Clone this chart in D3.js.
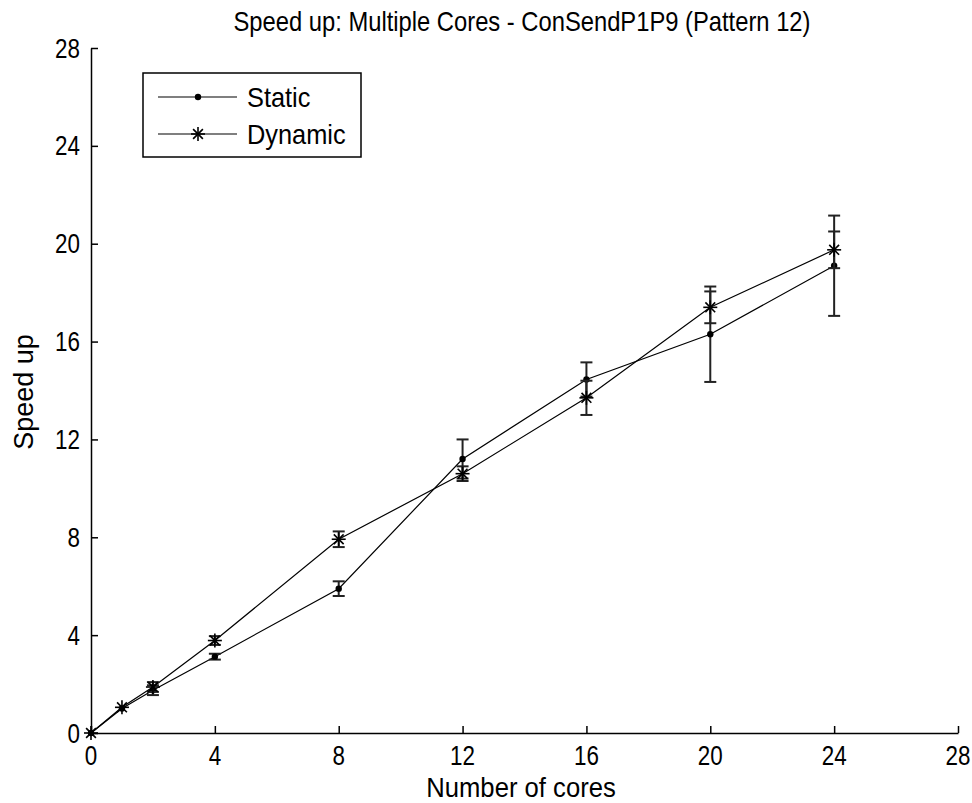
<!DOCTYPE html>
<html>
<head>
<meta charset="utf-8">
<script src="https://cdn.jsdelivr.net/npm/d3@7"></script>
<style>
  body { margin: 0; background: #fff; }
  svg text { font-family: "Liberation Sans", Arial, sans-serif; fill: #000; }
</style>
</head>
<body>
<div id="chart"></div>
<script>
// data
var cores = [0, 1, 2, 4, 8, 12, 16, 20, 24];
var staticSpeed = [0, 1.0, 1.75, 3.12, 5.9, 11.2, 14.45, 16.3, 19.1];
var staticErr = [0, 0.05, 0.2, 0.12, 0.3, 0.8, 0.7, 1.95, 2.05];
var dynamicSpeed = [0, 1.05, 1.88, 3.78, 7.92, 10.6, 13.7, 17.4, 19.75];
var dynamicErr = [0, 0.05, 0.2, 0.18, 0.32, 0.3, 0.7, 0.65, 0.75];
var tickVals = [0, 4, 8, 12, 16, 20, 24, 28];

var W = 972, H = 803;
var margin = { top: 48, right: 14, bottom: 70, left: 91 };
var FS = 27;

var svg = d3.select("#chart").append("svg")
    .attr("width", W)
    .attr("height", H);

var x = d3.scaleLinear().domain([0, 28]).range([margin.left, W - margin.right]);
var y = d3.scaleLinear().domain([0, 28]).range([H - margin.bottom, margin.top]);

// text helper: the matlab font is tall and narrow, so squeeze it sideways
function label(g, px, py, str, sx, anchor, rot) {
    return g.append("text")
        .attr("transform", "translate(" + px + "," + py + ")" + (rot ? " rotate(" + rot + ")" : "") + " scale(" + sx + ",1)")
        .attr("text-anchor", anchor)
        .attr("font-size", FS)
        .text(str);
}

// axes, ticks pointing inward, labels drawn by hand
var xAxis = svg.append("g")
    .attr("transform", "translate(0," + y(0) + ")")
    .call(d3.axisBottom(x).tickValues(tickVals).tickSizeInner(-7).tickSizeOuter(0).tickFormat(""));
var yAxis = svg.append("g")
    .attr("transform", "translate(" + x(0) + ",0)")
    .call(d3.axisLeft(y).tickValues(tickVals).tickSizeInner(-7).tickSizeOuter(0).tickFormat(""));

[xAxis, yAxis].forEach(function(a) {
    a.select(".domain").attr("stroke", "#000").attr("stroke-width", 1.5);
    a.selectAll(".tick line").attr("stroke", "#000").attr("stroke-width", 1.5);
});

tickVals.forEach(function(v) {
    label(svg, x(v), y(0) + 32, String(v), 0.83, "middle");
    label(svg, x(0) - 11, y(v) + 9.5, String(v), 0.83, "end");
});

label(svg, 522, 31, "Speed up: Multiple Cores - ConSendP1P9 (Pattern 12)", 0.88, "middle");
label(svg, 521, 797, "Number of cores", 0.95, "middle");
label(svg, 33, 392, "Speed up", 1.0, "middle", -90);

var line = d3.line()
    .x(function(d) { return x(d[0]); })
    .y(function(d) { return y(d[1]); });

function drawSeries(vals, errs, marker) {
    var pts = cores.map(function(c, i) { return [c, vals[i], errs[i]]; });

    svg.append("path")
        .datum(pts)
        .attr("d", line)
        .attr("fill", "none")
        .attr("stroke", "#000")
        .attr("stroke-width", 1.2);

    var eb = svg.append("g").attr("stroke", "#222").attr("stroke-width", 2);
    pts.filter(function(d) { return d[2] > 0.1; }).forEach(function(d) {
        var cx = x(d[0]), top = y(d[1] + d[2]), bot = y(d[1] - d[2]);
        eb.append("line").attr("x1", cx).attr("x2", cx).attr("y1", top).attr("y2", bot);
        eb.append("line").attr("x1", cx - 6).attr("x2", cx + 6).attr("y1", top).attr("y2", top);
        eb.append("line").attr("x1", cx - 6).attr("x2", cx + 6).attr("y1", bot).attr("y2", bot);
    });

    pts.forEach(function(d) {
        marker(svg, x(d[0]), y(d[1]));
    });
}

function dotMarker(g, cx, cy) {
    g.append("circle").attr("cx", cx).attr("cy", cy).attr("r", 3.2).attr("fill", "#000");
}

function starMarker(g, cx, cy) {
    var s = 7;
    var m = g.append("g").attr("stroke", "#000").attr("stroke-width", 1.6);
    m.append("line").attr("x1", cx - s).attr("x2", cx + s).attr("y1", cy).attr("y2", cy);
    m.append("line").attr("x1", cx).attr("x2", cx).attr("y1", cy - s).attr("y2", cy + s);
    m.append("line").attr("x1", cx - s * 0.7).attr("x2", cx + s * 0.7).attr("y1", cy - s * 0.7).attr("y2", cy + s * 0.7);
    m.append("line").attr("x1", cx - s * 0.7).attr("x2", cx + s * 0.7).attr("y1", cy + s * 0.7).attr("y2", cy - s * 0.7);
}

drawSeries(staticSpeed, staticErr, dotMarker);
drawSeries(dynamicSpeed, dynamicErr, starMarker);

// legend
var legend = svg.append("g");
legend.append("rect")
    .attr("x", 143).attr("y", 73).attr("width", 218).attr("height", 84)
    .attr("fill", "#fff").attr("stroke", "#000").attr("stroke-width", 1.5);
var legendItems = [["Static", dotMarker, 97], ["Dynamic", starMarker, 134]];
legendItems.forEach(function(it) {
    legend.append("line")
        .attr("x1", 158).attr("x2", 237).attr("y1", it[2]).attr("y2", it[2])
        .attr("stroke", "#000").attr("stroke-width", 1.2);
    it[1](legend, 198, it[2]);
    label(legend, 247, it[2] + 9.5, it[0], 0.94, "start");
});
</script>
</body>
</html>
